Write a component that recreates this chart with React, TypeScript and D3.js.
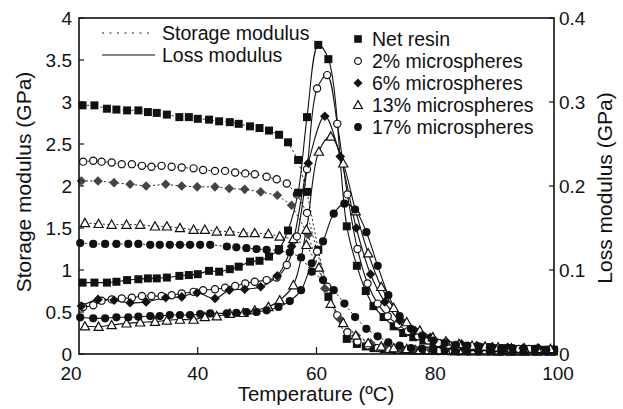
import React from 'react';
import * as d3 from 'd3';

const W = 623;
const H = 409;
const PL = 79, PR = 554, PT = 18, PB = 354;

const xTicks = [20, 40, 60, 80, 100];
const yLeftTicks = [0, 0.5, 1, 1.5, 2, 2.5, 3, 3.5, 4];
const yLeftLabels = ['0', '0.5', '1', '1.5', '2', '2.5', '3', '3.5', '4'];
const yRightTicks = [0, 0.1, 0.2, 0.3, 0.4];
const yRightLabels = ['0', '0.1', '0.2', '0.3', '0.4'];

const seriesNames = ['Net resin', '2% microspheres', '6% microspheres', '13% microspheres', '17% microspheres'];

// Net resin
const netTemps = [20.6, 22.6, 24.7, 26.3, 28.1, 30.0, 31.6, 33.1, 34.8, 36.9, 38.5, 40.0, 41.9, 43.6, 45.4, 46.9, 48.8, 50.4, 52.0, 53.7, 55.2, 56.9, 58.4, 60.3, 62.0, 65.1, 66.8, 68.3, 69.6, 71.3, 73.0, 74.6, 76.3, 78.0, 79.7, 81.4, 83.1, 84.8, 86.5, 88.2, 89.9, 91.6, 93.3, 95.0, 96.7, 98.4, 100.0];
const netStorage = [2.96, 2.96, 2.92, 2.91, 2.90, 2.90, 2.88, 2.87, 2.85, 2.82, 2.82, 2.80, 2.79, 2.77, 2.76, 2.74, 2.71, 2.69, 2.66, 2.61, 2.52, 2.31, 1.93, 1.24, 0.68, 0.18, 0.12, 0.09, 0.07, 0.06, 0.05, 0.045, 0.04, 0.04, 0.035, 0.035, 0.03, 0.03, 0.03, 0.03, 0.03, 0.03, 0.03, 0.03, 0.03, 0.03, 0.03];
const netLoss = [0.085, 0.085, 0.085, 0.086, 0.088, 0.089, 0.090, 0.090, 0.091, 0.093, 0.094, 0.095, 0.099, 0.098, 0.101, 0.104, 0.110, 0.111, 0.116, 0.125, 0.147, 0.192, 0.282, 0.368, 0.351, 0.152, 0.105, 0.075, 0.057, 0.044, 0.033, 0.025, 0.02, 0.016, 0.013, 0.011, 0.01, 0.009, 0.008, 0.008, 0.007, 0.007, 0.006, 0.006, 0.006, 0.005, 0.005];

// 2% microspheres
const p2Temps = [20.7, 22.4, 23.8, 25.5, 27.2, 28.9, 30.6, 32.2, 33.9, 35.6, 37.3, 39.3, 40.9, 42.9, 44.6, 46.3, 48.0, 49.6, 51.6, 53.3, 55.0, 56.7, 58.4, 60.1, 61.8, 63.5, 65.2, 66.9, 68.6, 70.3, 72.0, 73.7, 75.4, 77.1, 78.8, 80.5, 82.2, 83.9, 85.6, 87.3, 89.0, 90.7, 92.4, 94.1, 95.8, 97.5, 99.2];
const p2Storage = [2.29, 2.30, 2.29, 2.28, 2.26, 2.26, 2.24, 2.23, 2.24, 2.23, 2.22, 2.21, 2.19, 2.18, 2.18, 2.16, 2.15, 2.14, 2.11, 2.08, 2.03, 1.90, 1.68, 1.22, 0.80, 0.46, 0.26, 0.15, 0.10, 0.07, 0.06, 0.05, 0.045, 0.04, 0.04, 0.035, 0.035, 0.03, 0.03, 0.03, 0.03, 0.03, 0.03, 0.03, 0.03, 0.03, 0.03];
const p2Loss = [0.056, 0.058, 0.0635, 0.065, 0.066, 0.067, 0.069, 0.069, 0.069, 0.070, 0.072, 0.074, 0.076, 0.077, 0.079, 0.081, 0.084, 0.086, 0.088, 0.091, 0.106, 0.14, 0.22, 0.316, 0.332, 0.274, 0.19, 0.125, 0.084, 0.06, 0.045, 0.035, 0.027, 0.021, 0.016, 0.013, 0.011, 0.01, 0.009, 0.008, 0.008, 0.007, 0.007, 0.006, 0.006, 0.005, 0.005];

// 6% microspheres
const p6Temps = [20.4, 23.2, 25.9, 28.6, 31.3, 34.6, 37.3, 39.9, 42.9, 45.3, 47.9, 50.6, 53.4, 55.8, 58.6, 61.4, 64.0, 66.7, 69.1, 71.5, 74.0, 76.6, 79.2, 81.8, 84.4, 87.0, 89.6, 92.2, 94.8, 97.4, 100.0];
const p6Storage = [2.06, 2.06, 2.04, 2.02, 2.00, 2.02, 2.00, 1.99, 1.99, 1.97, 1.96, 1.93, 1.89, 1.77, 1.42, 0.78, 0.41, 0.22, 0.13, 0.09, 0.07, 0.06, 0.05, 0.045, 0.04, 0.04, 0.035, 0.035, 0.035, 0.03, 0.03];
const p6Loss = [0.057, 0.065, 0.064, 0.061, 0.062, 0.067, 0.068, 0.073, 0.066, 0.076, 0.077, 0.080, 0.093, 0.128, 0.227, 0.283, 0.235, 0.15, 0.095, 0.062, 0.04, 0.028, 0.02, 0.015, 0.012, 0.01, 0.009, 0.008, 0.007, 0.007, 0.006];

// 13% microspheres
const p13Temps = [21.0, 23.3, 25.5, 28.0, 30.3, 32.8, 34.8, 37.0, 39.3, 41.2, 43.2, 45.4, 47.7, 49.6, 51.9, 53.8, 56.1, 58.3, 60.4, 62.4, 64.5, 66.6, 68.7, 70.9, 73.0, 75.2, 77.4, 79.6, 81.8, 84.0, 86.2, 88.4, 90.6, 92.8, 95.0, 97.2, 99.4];
const p13Storage = [1.56, 1.55, 1.54, 1.54, 1.54, 1.52, 1.52, 1.50, 1.48, 1.48, 1.46, 1.46, 1.44, 1.44, 1.43, 1.40, 1.37, 1.30, 1.03, 0.60, 0.37, 0.22, 0.13, 0.09, 0.07, 0.06, 0.05, 0.045, 0.04, 0.04, 0.035, 0.035, 0.03, 0.03, 0.03, 0.03, 0.03];
const p13Loss = [0.033, 0.0325, 0.0345, 0.0365, 0.0377, 0.0385, 0.040, 0.041, 0.041, 0.044, 0.045, 0.048, 0.049, 0.052, 0.056, 0.064, 0.082, 0.148, 0.241, 0.259, 0.227, 0.17, 0.12, 0.08, 0.055, 0.038, 0.028, 0.02, 0.015, 0.012, 0.01, 0.009, 0.008, 0.007, 0.007, 0.006, 0.006];

// 17% microspheres
const p17Temps = [20.2, 22.4, 24.4, 26.3, 28.3, 30.0, 32.0, 33.6, 35.3, 37.0, 38.7, 40.4, 42.1, 44.9, 46.5, 48.2, 49.9, 51.6, 53.6, 55.5, 57.4, 59.2, 61.1, 62.9, 64.7, 66.5, 68.4, 70.3, 72.1, 74.0, 75.9, 77.8, 79.7, 81.6, 83.5, 85.4, 87.3, 89.2, 91.1, 93.0, 94.9, 96.8, 98.7];
const p17Storage = [1.32, 1.31, 1.31, 1.31, 1.31, 1.31, 1.30, 1.30, 1.30, 1.30, 1.30, 1.30, 1.30, 1.28, 1.27, 1.26, 1.25, 1.24, 1.23, 1.21, 1.15, 0.98, 0.88, 0.76, 0.60, 0.44, 0.30, 0.21, 0.14, 0.10, 0.07, 0.06, 0.05, 0.045, 0.04, 0.04, 0.035, 0.035, 0.03, 0.03, 0.03, 0.03, 0.03];
const p17Loss = [0.0437, 0.0425, 0.0425, 0.0437, 0.0437, 0.0444, 0.0452, 0.0452, 0.0464, 0.0464, 0.0464, 0.0476, 0.0484, 0.0484, 0.049, 0.050, 0.050, 0.052, 0.056, 0.063, 0.076, 0.108, 0.134, 0.167, 0.179, 0.172, 0.145, 0.105, 0.07, 0.045, 0.03, 0.022, 0.016, 0.013, 0.011, 0.01, 0.009, 0.008, 0.007, 0.007, 0.006, 0.006, 0.005];

type Shape = 'square' | 'ocircle' | 'diamond' | 'triangle' | 'fcircle';

const materials: { name: string; temps: number[]; storage: number[]; loss: number[]; shape: Shape; storageFill: string }[] = [
  { name: seriesNames[0], temps: netTemps, storage: netStorage, loss: netLoss, shape: 'square', storageFill: '#111' },
  { name: seriesNames[1], temps: p2Temps, storage: p2Storage, loss: p2Loss, shape: 'ocircle', storageFill: '#111' },
  { name: seriesNames[2], temps: p6Temps, storage: p6Storage, loss: p6Loss, shape: 'diamond', storageFill: '#444' },
  { name: seriesNames[3], temps: p13Temps, storage: p13Storage, loss: p13Loss, shape: 'triangle', storageFill: '#111' },
  { name: seriesNames[4], temps: p17Temps, storage: p17Storage, loss: p17Loss, shape: 'fcircle', storageFill: '#111' },
];

const FONT = "'Liberation Sans', Arial, Helvetica, sans-serif";

function Marker({ shape, x, y, fill, k = 1 }: { shape: Shape; x: number; y: number; fill: string; k?: number }) {
  const t = `translate(${x},${y})`;
  if (shape === 'square') {
    const s = 4 * k;
    return <rect transform={t} x={-s} y={-s} width={2 * s} height={2 * s} fill={fill} />;
  }
  if (shape === 'ocircle') {
    return <circle transform={t} r={3.6 * k} fill="#fff" stroke={fill} strokeWidth={1.2} />;
  }
  if (shape === 'fcircle') {
    return <circle transform={t} r={4.1 * k} fill={fill} />;
  }
  if (shape === 'diamond') {
    const s = 4.8 * k;
    return <path transform={t} d={`M0,${-s}L${s},0L0,${s}L${-s},0Z`} fill={fill} />;
  }
  const s = 4.6 * k;
  return <path transform={t} d={`M0,${-s}L${s},${s * 0.8}L${-s},${s * 0.8}Z`} fill="#fff" stroke={fill} strokeWidth={1.2} />;
}

export default function App() {
  const x = d3.scaleLinear().domain([20, 100]).range([PL, PR]);
  const yL = d3.scaleLinear().domain([0, 4]).range([PB, PT]);
  const yR = d3.scaleLinear().domain([0, 0.4]).range([PB, PT]);

  const storageLine = d3.line<[number, number]>().x(d => x(d[0])).y(d => yL(d[1])).curve(d3.curveLinear);
  const lossLine = d3.line<[number, number]>().x(d => x(d[0])).y(d => yR(d[1])).curve(d3.curveCatmullRom.alpha(0.5));

  return (
    <svg width={W} height={H} style={{ position: 'absolute', left: 0, top: 0, background: '#fff' }} fontFamily={FONT}>
      <rect x={0} y={0} width={W} height={H} fill="#fff" />
      {/* storage dotted lines */}
      {materials.map((m, i) => (
        <path key={'sl' + i} d={storageLine(m.temps.map((t, j) => [t, m.storage[j]] as [number, number])) || ''}
          fill="none" stroke="#222" strokeWidth={1} strokeDasharray="2,2.5" />
      ))}
      {/* loss solid lines */}
      {materials.map((m, i) => (
        <path key={'ll' + i} d={lossLine(m.temps.map((t, j) => [t, m.loss[j]] as [number, number])) || ''}
          fill="none" stroke="#111" strokeWidth={1.1} />
      ))}
      {/* storage markers */}
      {materials.map((m, i) => (
        <g key={'sm' + i}>
          {m.temps.map((t, j) => <Marker key={j} shape={m.shape} x={x(t)} y={yL(m.storage[j])} fill={m.storageFill} />)}
        </g>
      ))}
      {/* loss markers */}
      {materials.map((m, i) => (
        <g key={'lm' + i}>
          {m.temps.map((t, j) => <Marker key={j} shape={m.shape} x={x(t)} y={yR(m.loss[j])} fill="#111" />)}
        </g>
      ))}

      {/* frame */}
      <rect x={PL} y={PT} width={PR - PL} height={PB - PT} fill="none" stroke="#111" strokeWidth={1.6} />
      {/* left ticks */}
      {yLeftTicks.map((v, i) => (
        <g key={'yl' + i}>
          <line x1={PL} x2={PL + 5} y1={yL(v)} y2={yL(v)} stroke="#111" strokeWidth={1.2} />
          <text x={PL - 7} y={yL(v)} dy="0.35em" textAnchor="end" fontSize={19} fill="#111">{yLeftLabels[i]}</text>
        </g>
      ))}
      {/* right ticks */}
      {yRightTicks.map((v, i) => (
        <g key={'yr' + i}>
          <line x1={PR - 5} x2={PR} y1={yR(v)} y2={yR(v)} stroke="#111" strokeWidth={1.2} />
          <text x={PR + 5} y={yR(v)} dy="0.35em" textAnchor="start" fontSize={19} fill="#111">{yRightLabels[i]}</text>
        </g>
      ))}
      {/* bottom ticks */}
      {xTicks.map((v, i) => (
        <g key={'xt' + i}>
          {i > 0 && i < xTicks.length - 1 && (
            <line x1={x(v)} x2={x(v)} y1={PB} y2={PB - 7} stroke="#111" strokeWidth={1.2} />
          )}
          <text x={x(v) + (i === 0 ? -8 : i === xTicks.length - 1 ? 4 : 0)} y={380} textAnchor="middle" fontSize={19} fill="#111">{v}</text>
        </g>
      ))}

      {/* axis titles */}
      <text x={316} y={401} textAnchor="middle" fontSize={20.5} fill="#111">Temperature (ºC)</text>
      <text transform={`translate(31,182) rotate(-90)`} textAnchor="middle" fontSize={21} fill="#111">Storage modulus (GPa)</text>
      <text transform={`translate(612,188) rotate(-90)`} textAnchor="middle" fontSize={21} fill="#111">Loss modulus (GPa)</text>

      {/* legend: line styles */}
      <line x1={102} x2={154} y1={33} y2={33} stroke="#222" strokeWidth={1.2} strokeDasharray="2,5.5" />
      <text x={162} y={33} dy="0.35em" fontSize={19.5} fill="#111">Storage modulus</text>
      <line x1={102} x2={155} y1={55} y2={55} stroke="#111" strokeWidth={1.2} />
      <text x={162} y={55} dy="0.35em" fontSize={19.5} fill="#111">Loss modulus</text>

      {/* legend: materials */}
      {materials.map((m, i) => (
        <g key={'lg' + i}>
          <Marker shape={m.shape} x={358} y={39 + i * 22} fill="#111" k={0.95} />
          <text x={372} y={39 + i * 22} dy="0.35em" fontSize={19.5} fill="#111">{m.name}</text>
        </g>
      ))}
    </svg>
  );
}
